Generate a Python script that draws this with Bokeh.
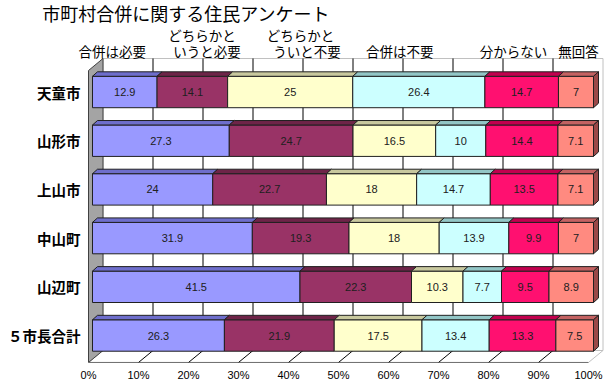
from bokeh.plotting import figure
from bokeh.models import Range1d, LinearAxis, FixedTicker, ColumnDataSource
from bokeh.core.properties import value
from bokeh.embed import file_html
from bokeh.resources import INLINE

# ---------------- data ----------------
title_text = "市町村合併に関する住民アンケート"
areas = ["天童市", "山形市", "上山市", "中山町", "山辺町", "５市長合計"]
series_names = ["合併は必要", "どちらかと\nいうと必要", "どちらかと\nういと不要",
                "合併は不要", "分からない", "無回答"]
gappei_hitsuyo = [12.9, 27.3, 24, 31.9, 41.5, 26.3]
dochira_hitsuyo = [14.1, 24.7, 22.7, 19.3, 22.3, 21.9]
dochira_fuyo = [25, 16.5, 18, 18, 10.3, 17.5]
gappei_fuyo = [26.4, 10, 14.7, 13.9, 7.7, 13.4]
wakaranai = [14.7, 14.4, 13.5, 9.9, 9.5, 13.3]
mukaitou = [7, 7.1, 7.1, 7, 8.9, 7.5]
series_values = [gappei_hitsuyo, dochira_hitsuyo, dochira_fuyo,
                 gappei_fuyo, wakaranai, mukaitou]
tick_values = [0, 10, 20, 30, 40, 50, 60, 70, 80, 90, 100]
tick_labels = ["0%", "10%", "20%", "30%", "40%", "50%", "60%", "70%", "80%", "90%", "100%"]

# ---------------- styles / geometry ----------------
front_colors = ["#9999FF", "#993366", "#FFFFCC", "#CCFFFF", "#FF1070", "#FF8A80"]
top_colors = ["#6E6ECC", "#6E2448", "#C8C89E", "#92C6C6", "#C2004E", "#C46262"]
side_color = "#9A4848"
bar_h = 0.645
dx_bar, dy_bar = 1.0, 0.092           # depth of bar top faces
DX, DY = 2.894, 0.246                 # depth of the walls
floor_front_y, floor_back_y = -0.554, -0.308
wall_top_front, wall_top_back = 5.441, 5.688
unit = 0.998                           # data units per percent on the walls
x_front0 = -0.798
# (x of line 1, x of line 2) for each series label
label_x = [(3.93, 3.93), (21.86, 22.85), (41.52, 42.81), (61.32, 61.32), (84.03, 84.03), (97.0, 97.0)]
label_line_y = [6.17, 5.852]
jp = value("Noto Sans CJK JP")

p = figure(width=610, height=390,
           x_range=Range1d(-18.363, 103.393), y_range=Range1d(-0.5544, 6.8789),
           output_backend="svg", toolbar_location=None,
           x_axis_location=None, y_axis_location=None,
           min_border=0, min_border_bottom=28, outline_line_color=None)
p.grid.visible = False

def xf(pct):
    return x_front0 + pct * unit

# back wall
p.patch([xf(0) + DX, xf(100) + DX, xf(100) + DX, xf(0) + DX],
        [floor_back_y, floor_back_y, wall_top_back, wall_top_back],
        fill_color="white", line_color="#C0C0C0", line_width=1)
for t in tick_values[1:-1]:
    p.line([xf(t) + DX, xf(t) + DX], [floor_back_y, wall_top_back],
           line_color="black", line_width=1)
# floor
p.patch([xf(0), xf(100), xf(100) + DX, xf(0) + DX],
        [floor_front_y, floor_front_y, floor_back_y, floor_back_y],
        fill_color="white", line_color="#C0C0C0", line_width=1)
p.line([xf(0), xf(100)], [floor_front_y, floor_front_y], line_color="black", line_width=1)
for t in tick_values[1:-1]:
    p.line([xf(t), xf(t) + DX], [floor_front_y, floor_back_y], line_color="black", line_width=1)
# left wall
p.patch([xf(0), xf(0) + DX, xf(0) + DX, xf(0)],
        [wall_top_front, wall_top_back, floor_back_y, floor_front_y],
        fill_color="#A4A4A4", line_color="#404040", line_width=1)

# ---------------- bars ----------------
n = len(areas)
ys = [n - 1 - i for i in range(n)]
totals = [sum(s[i] for s in series_values) for i in range(n)]

for k, vals in enumerate(series_values):
    lefts, rights = [], []
    for i in range(n):
        cum = sum(series_values[j][i] for j in range(k)) / totals[i] * 100
        lefts.append(cum)
        rights.append(cum + vals[i] / totals[i] * 100)
    src = ColumnDataSource(dict(left=lefts, right=rights, y=ys,
                                bottom=[y - bar_h / 2 for y in ys],
                                top=[y + bar_h / 2 for y in ys],
                                mid=[(a + b) / 2 for a, b in zip(lefts, rights)],
                                lab=[("%g" % v) for v in vals]))
    p.quad(left="left", right="right", bottom="bottom", top="top", source=src,
           fill_color=front_colors[k], line_color="#202020", line_width=1)
    txs = [[l, r, r + dx_bar, l + dx_bar] for l, r in zip(lefts, rights)]
    tys = [[y + bar_h / 2, y + bar_h / 2, y + bar_h / 2 + dy_bar, y + bar_h / 2 + dy_bar] for y in ys]
    p.patches(txs, tys, fill_color=top_colors[k], line_color="#202020", line_width=1)
    if k == len(series_values) - 1:
        sxs = [[r, r + dx_bar, r + dx_bar, r] for r in rights]
        sys_ = [[y - bar_h / 2, y - bar_h / 2 + dy_bar, y + bar_h / 2 + dy_bar, y + bar_h / 2] for y in ys]
        p.patches(sxs, sys_, fill_color=side_color, line_color="#202020", line_width=1)
    p.text(x="mid", y="y", text="lab", source=src, text_align="center",
           text_baseline="middle", text_font=value("Liberation Sans"),
           text_font_size="11px", text_color="#202020")

# category labels
p.text(x=[-2.4] * n, y=ys, text=areas, text_align="right", text_baseline="middle",
       text_font=jp, text_font_size="14.5px", text_font_style="bold", text_color="black")

# series labels above the chart
for k, name in enumerate(series_names):
    lines = name.split("\n")
    if len(lines) == 1:
        pts = [(label_x[k][1], label_line_y[1])]
    else:
        pts = [(label_x[k][0], label_line_y[0]), (label_x[k][1], label_line_y[1])]
    for ln, (xx, yy) in zip(lines, pts):
        p.text(x=[xx], y=[yy], text=[ln], text_align="center",
               text_baseline="middle", text_font=jp, text_font_size="13.5px",
               text_color="black")

# title
p.text(x=[-10.04], y=[6.632], text=[title_text], text_align="left", text_baseline="middle",
       text_font=jp, text_font_size="18px", text_font_style="normal", text_color="black")

# percentage axis along the floor front edge
p.extra_x_ranges = {"floor": Range1d(-17.6, 104.4)}
ax = LinearAxis(x_range_name="floor", ticker=FixedTicker(ticks=tick_values),
                major_label_overrides={t: s for t, s in zip(tick_values, tick_labels)},
                axis_line_color=None, major_tick_line_color=None, minor_tick_line_color=None,
                major_tick_out=0, major_tick_in=0, minor_tick_out=0, minor_tick_in=0,
                major_label_standoff=6,
                major_label_text_font="Liberation Sans", major_label_text_font_size="11px",
                major_label_text_color="black")
p.add_layout(ax, "below")

open("out.html", "w").write(file_html(p, INLINE))
